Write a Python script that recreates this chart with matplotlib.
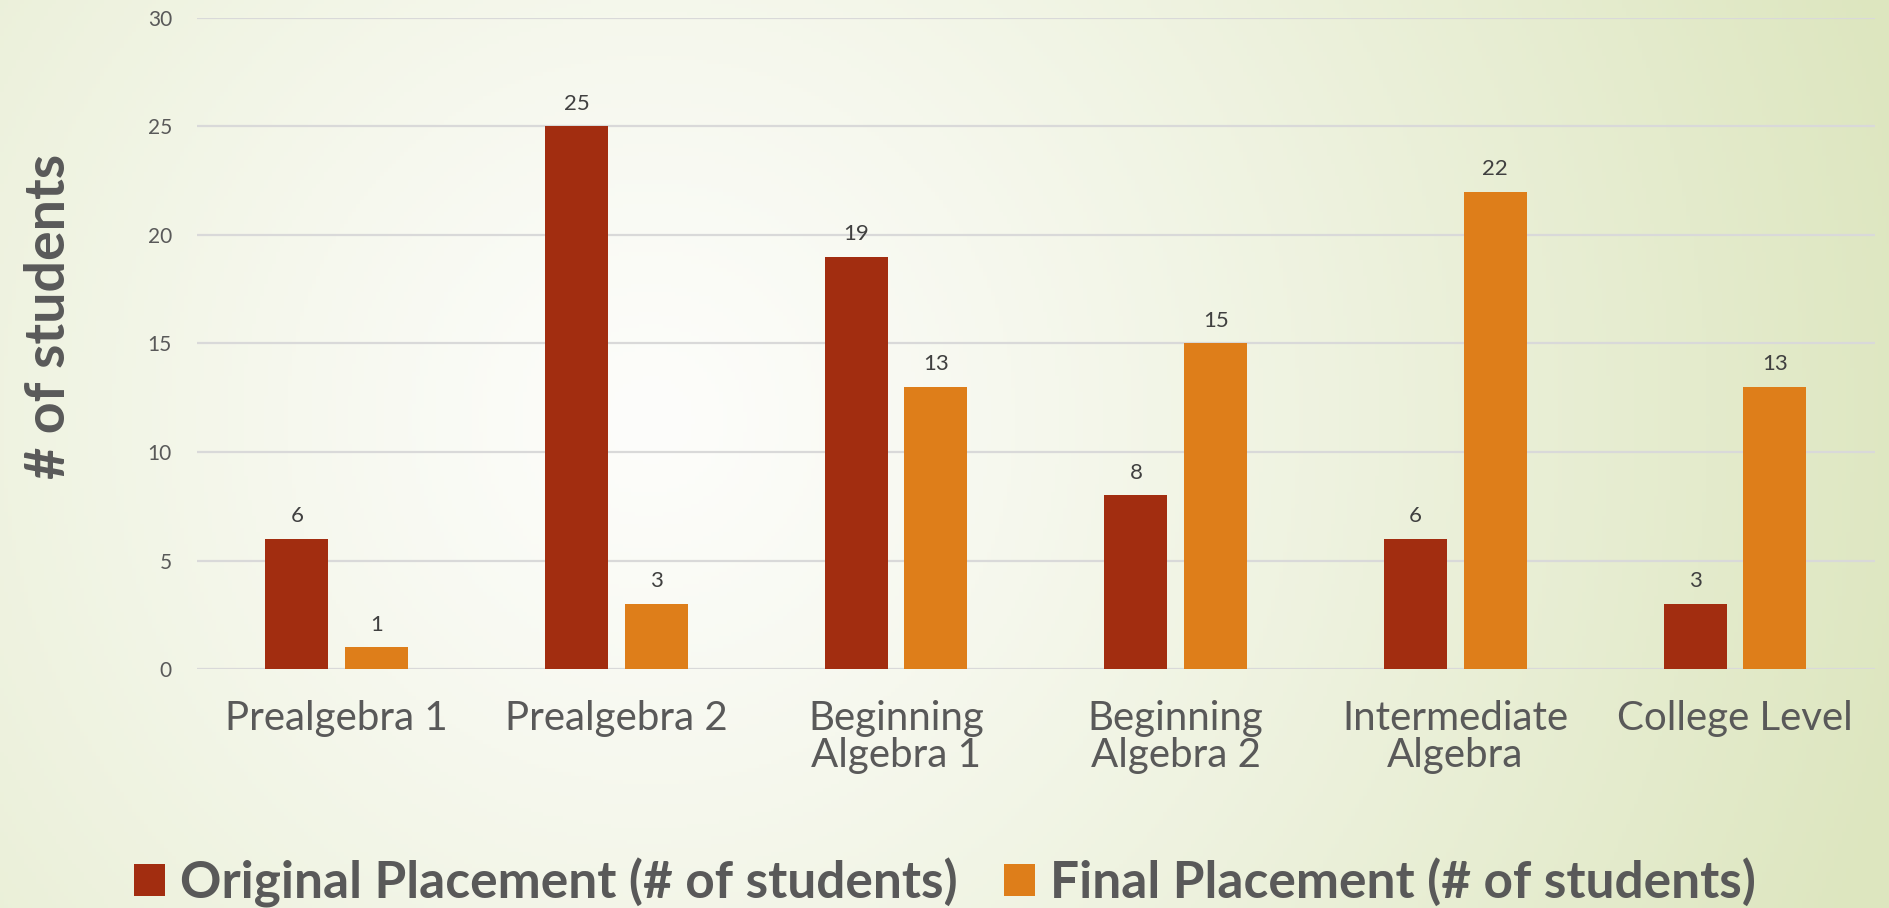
import numpy as np
import matplotlib.pyplot as plt

# chart values
categories = ['Prealgebra 1', 'Prealgebra 2', 'Beginning\nAlgebra 1',
              'Beginning\nAlgebra 2', 'Intermediate\nAlgebra', 'College Level']
original = [6, 25, 19, 8, 6, 3]
final = [1, 3, 13, 15, 22, 13]
series_names = ['Original Placement (# of students)', 'Final Placement (# of students)']
yticks = [0, 5, 10, 15, 20, 25, 30]

red = '#A22D10'
orange = '#DE7E1A'
txt = '#595959'

plt.rcParams['font.family'] = ['Lato', 'DejaVu Sans']

fig = plt.figure(figsize=(18.9, 9.08), dpi=100)

# soft radial background, light in the middle-left, green towards the right
bg = fig.add_axes([0, 0, 1, 1], zorder=-10)
yy, xx = np.mgrid[0:908:227j, 0:1890:473j]
d = np.sqrt((xx - 650) ** 2 + (yy - 420) ** 2)
t = np.clip(d / 1300, 0, 1) ** 1.2
c0 = np.array([0xfd, 0xfd, 0xfb]) / 255
c1 = np.array([0xdd, 0xe6, 0xbf]) / 255
img = c0[None, None, :] * (1 - t[..., None]) + c1[None, None, :] * t[..., None]
bg.imshow(img, aspect='auto', extent=[0, 1, 0, 1], origin='upper')
bg.axis('off')

ax = fig.add_axes([0.1042, 0.2632, 0.992 - 0.1042, 0.9802 - 0.2632])
ax.patch.set_alpha(0)

x = np.arange(len(categories))
w = 0.225
off = 0.1425
b1 = ax.bar(x - off, original, w, color=red, label=series_names[0], zorder=3)
b2 = ax.bar(x + off, final, w, color=orange, label=series_names[1], zorder=3)

for bars in (b1, b2):
    for rect in bars:
        h = rect.get_height()
        ax.annotate(str(int(h)), (rect.get_x() + rect.get_width() / 2, h),
                    xytext=(0, 9), textcoords='offset points',
                    ha='center', va='bottom', fontsize=16, color='#404040')

ax.set_xlim(-0.5, len(categories) - 0.5)
ax.set_ylim(0, 30)
ax.set_yticks(yticks)
ax.yaxis.grid(True, color='#d9d9d9', linewidth=1.6, zorder=0)
ax.set_axisbelow(True)
for s in ax.spines.values():
    s.set_visible(False)
ax.tick_params(axis='y', length=0, pad=18, labelsize=15, labelcolor=txt)
ax.tick_params(axis='x', length=0, pad=22, labelsize=29, labelcolor=txt)
ax.set_xticks(x)
ax.set_xticklabels(categories, linespacing=1.0, va='top')

fig.text(0.026, 0.652, '# of students', rotation=90, ha='center', va='center',
         fontsize=40, fontweight='bold', color=txt)

fig.legend(loc='center', bbox_to_anchor=(0.5, 0.028), ncol=2, frameon=False,
           prop={'size': 37, 'weight': 'bold'}, labelcolor=txt,
           handlelength=0.6, handleheight=0.6, handletextpad=0.3,
           columnspacing=0.9)

fig.savefig('out.png', dpi=100)
